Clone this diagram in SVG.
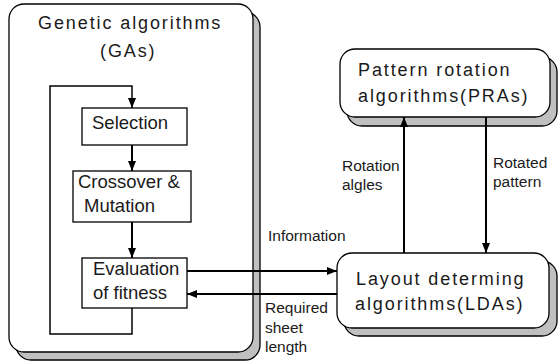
<svg xmlns="http://www.w3.org/2000/svg" width="558" height="363" viewBox="0 0 558 363">
<style>
.shadow{fill:#c0c0c0;stroke:#000;stroke-width:1.3}
.front{fill:#fff;stroke:#000;stroke-width:1.3}
.box{fill:#fff;stroke:#000;stroke-width:1.3}
.big{font-family:"Liberation Sans",Arial,sans-serif;font-size:18px;letter-spacing:1.9px;fill:#1a1a1a}
.mid{font-family:"Liberation Sans",Arial,sans-serif;font-size:18.5px;fill:#1a1a1a}
.lbl{font-family:"Liberation Sans",Arial,sans-serif;font-size:15.5px;fill:#1a1a1a}
.line{fill:none;stroke:#000;stroke-width:2}
.loop{fill:none;stroke:#000;stroke-width:1.5}
</style>
<defs>
<marker id="arr" viewBox="0 0 10 8" refX="10" refY="4" markerWidth="10" markerHeight="8" markerUnits="userSpaceOnUse" orient="auto">
<path d="M0,0 L10,4 L0,8 Z" fill="#000"/>
</marker>
</defs>
<g id="ga">
<rect class="shadow" x="16" y="12" width="244" height="348" rx="15"/>
<rect class="front" x="9" y="4" width="244" height="348" rx="15"/>
<text class="big" x="38" y="29">Genetic algorithms</text>
<text class="big" x="100" y="57">(GAs)</text>
</g>
<g id="selection">
<rect class="box" x="82" y="108" width="105" height="37"/>
<text class="mid" x="92" y="129">Selection</text>
</g>
<g id="crossover">
<rect class="box" x="73" y="171" width="118" height="51"/>
<text class="mid" x="78" y="188">Crossover &amp;</text>
<text class="mid" x="84" y="212">Mutation</text>
</g>
<g id="evaluation">
<rect class="box" x="82" y="258" width="105" height="50"/>
<text class="mid" x="93" y="275">Evaluation</text>
<text class="mid" x="93" y="299">of fitness</text>
</g>
<g id="pra">
<rect class="shadow" x="347" y="57" width="210" height="69" rx="15"/>
<rect class="front" x="340" y="49" width="210" height="68" rx="15"/>
<text class="big" x="358" y="76">Pattern rotation</text>
<text class="big" x="358" y="102">algorithms(PRAs)</text>
</g>
<g id="lda">
<rect class="shadow" x="344" y="261" width="213" height="75" rx="15"/>
<rect class="front" x="337" y="253" width="212" height="75" rx="15"/>
<text class="big" x="356" y="285">Layout determing</text>
<text class="big" x="355" y="310">algorithms(LDAs)</text>
</g>
<g id="connectors">
<path class="loop" d="M132,308 V334 H50 V86 H132 V108" marker-end="url(#arr)"/>
<path class="line" d="M132,145 V171" marker-end="url(#arr)"/>
<path class="line" d="M132,222 V258" marker-end="url(#arr)"/>
<path class="line" d="M187,271 H337" marker-end="url(#arr)"/>
<path class="line" d="M337,294 H187" marker-end="url(#arr)"/>
<path class="line" d="M404,253 V117" marker-end="url(#arr)"/>
<path class="line" d="M486,117 V253" marker-end="url(#arr)"/>
<text class="lbl" x="268" y="241">Information</text>
<text class="lbl" x="265" y="313">Required</text>
<text class="lbl" x="265" y="333">sheet</text>
<text class="lbl" x="265" y="352">length</text>
<text class="lbl" x="342" y="171">Rotation</text>
<text class="lbl" x="342" y="190">algles</text>
<text class="lbl" x="493" y="168">Rotated</text>
<text class="lbl" x="493" y="187">pattern</text>
</g>
</svg>
